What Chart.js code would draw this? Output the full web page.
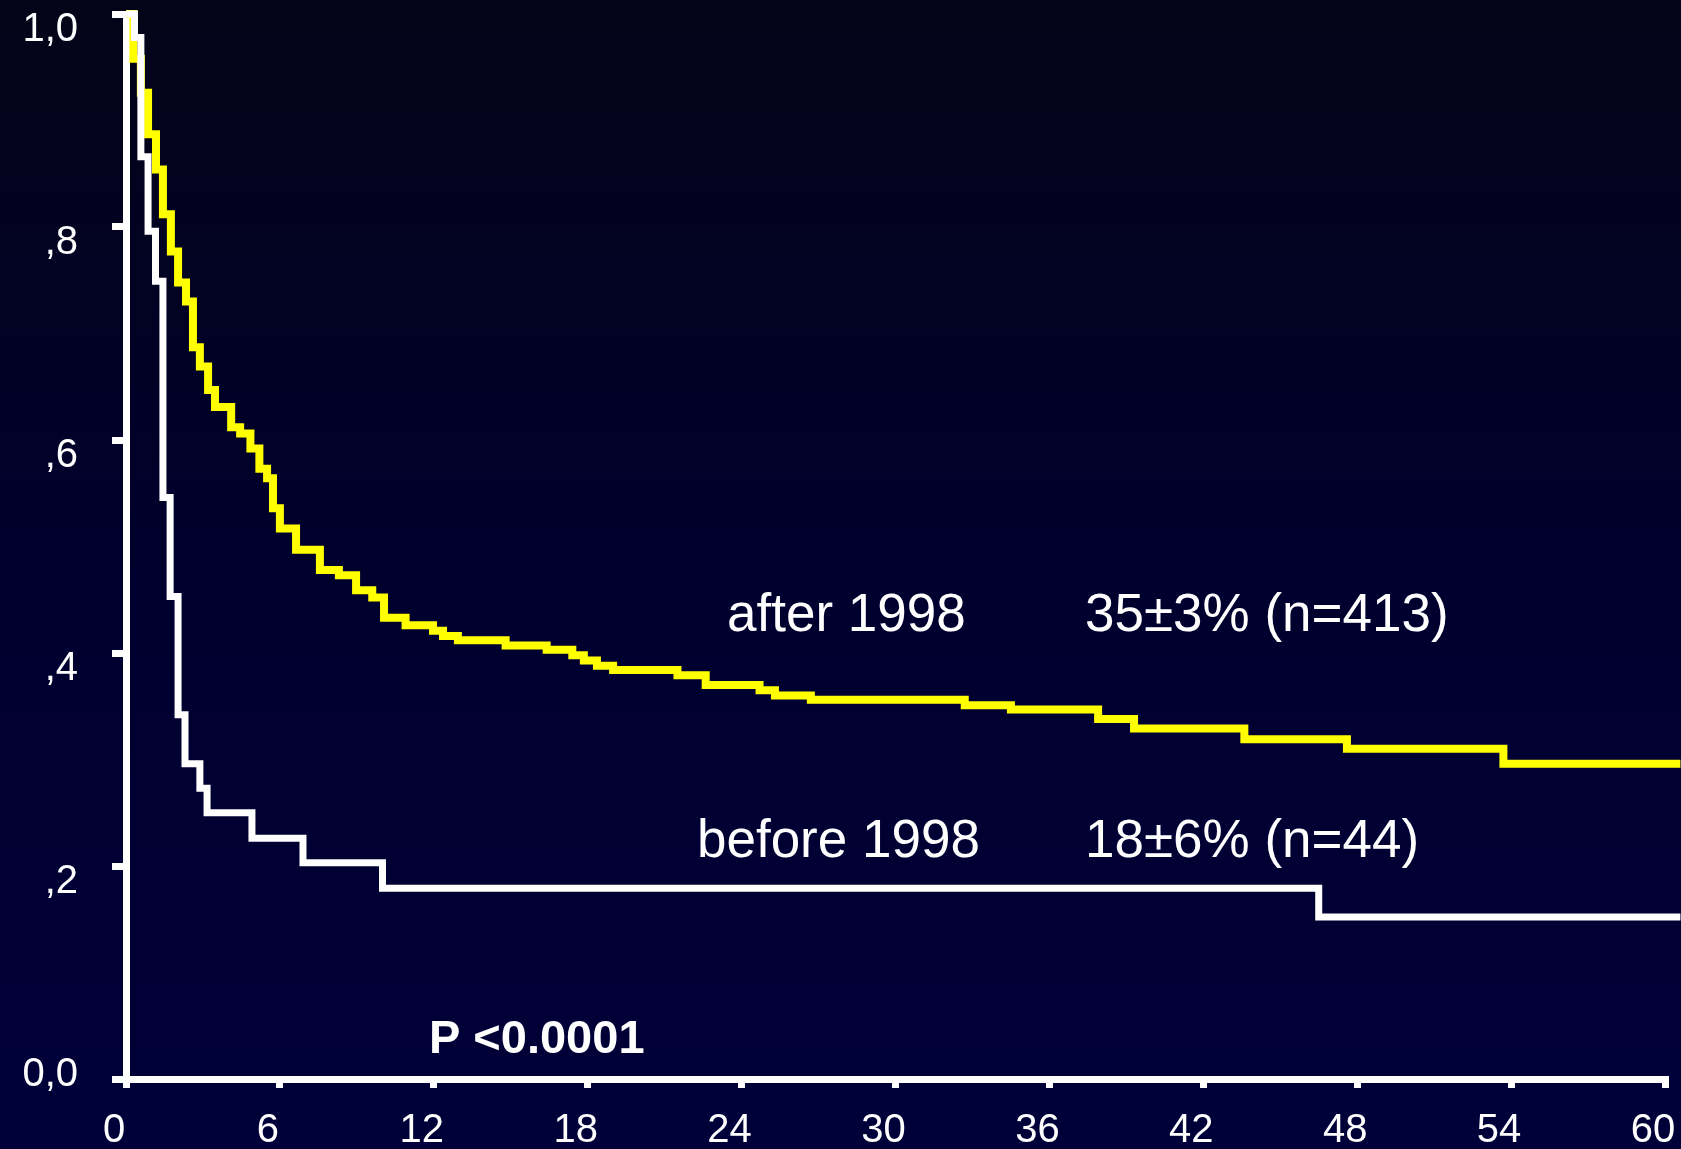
<!DOCTYPE html>
<html>
<head>
<meta charset="utf-8">
<script src="https://cdn.jsdelivr.net/npm/chart.js@4.4.1/dist/chart.umd.min.js"></script>
<style>
html, body { margin:0; padding:0; width:1681px; height:1149px; overflow:hidden;
  background: linear-gradient(to bottom, #040418 0%, #00002e 50%, #000039 100%); }
canvas { display:block; }
</style>
</head>
<body>
<canvas id="c" width="1681" height="1149"></canvas>
<script>
// ---- data (months, survival) ----
const afterMonths = [0, 0.29, 0.58, 0.86, 1.17, 1.44, 1.75, 2.03, 2.34, 2.61, 2.88, 3.2, 3.47, 4.1, 4.45,
  4.85, 5.2, 5.5, 5.73, 6.0, 6.63, 7.56, 8.3, 8.97, 9.6, 10.06, 10.9, 11.97, 12.36, 12.94,
  14.8, 16.4, 17.4, 17.85, 18.36, 18.99, 21.5, 22.6, 24.7, 25.3, 26.7, 32.7, 34.5, 37.9, 39.3,
  43.6, 47.6, 53.7, 60.6];
const afterSurvival = [1.0, 0.958, 0.926, 0.887, 0.854, 0.812, 0.777, 0.748, 0.730, 0.687, 0.669, 0.647, 0.631, 0.612, 0.606,
  0.592, 0.573, 0.564, 0.536, 0.517, 0.497, 0.478, 0.473, 0.459, 0.452, 0.433, 0.426, 0.421, 0.416, 0.412,
  0.407, 0.403, 0.398, 0.393, 0.388, 0.384, 0.379, 0.370, 0.365, 0.360, 0.356, 0.351, 0.347, 0.338, 0.329,
  0.319, 0.310, 0.296, 0.296];

const beforeMonths = [0, 0.33, 0.58, 0.86, 1.15, 1.44, 1.72, 2.03, 2.30, 2.88, 3.16, 4.91, 6.90, 10.0, 46.5, 60.6];
const beforeSurvival = [1.0, 0.978, 0.866, 0.796, 0.749, 0.546, 0.453, 0.342, 0.296, 0.273, 0.250, 0.226, 0.203, 0.179, 0.152, 0.152];

const xTickLabels = ['0', '6', '12', '18', '24', '30', '36', '42', '48', '54', '60'];
const yTickLabels = ['0,0', ',2', ',4', ',6', ',8', '1,0'];

const seriesLabels = ['after 1998', 'before 1998'];
const seriesStats = ['35\u00B13% (n=413)', '18\u00B16% (n=44)'];
const pValueText = 'P <0.0001';

// ---- build ----
const toPoints = (xs, ys) => xs.map((x, i) => ({ x: x, y: ys[i] }));
const FONT = '"Liberation Sans", Arial, Helvetica, sans-serif';

// text annotations placed in data coordinates
const notes = [
  { text: seriesLabels[0], x: 23.43, y: 0.4207, bold: false, size: 53 },
  { text: seriesStats[0],  x: 37.39, y: 0.4207, bold: false, size: 53 },
  { text: seriesLabels[1], x: 22.26, y: 0.2085, bold: false, size: 53 },
  { text: seriesStats[1],  x: 37.39, y: 0.2085, bold: false, size: 53 },
  { text: pValueText,      x: 11.81, y: 0.0244, bold: true,  size: 47 }
];

const notesPlugin = {
  id: 'notes',
  afterDraw(chart) {
    const ctx = chart.ctx, xs = chart.scales.x, ys = chart.scales.y;
    ctx.save();
    ctx.fillStyle = '#ffffff';
    ctx.textBaseline = 'alphabetic';
    ctx.textAlign = 'left';
    notes.forEach(n => {
      ctx.font = (n.bold ? 'bold ' : '') + n.size + 'px ' + FONT;
      ctx.fillText(n.text, xs.getPixelForValue(n.x), ys.getPixelForValue(n.y));
    });
    ctx.restore();
  }
};

new Chart(document.getElementById('c'), {
  type: 'line',
  data: {
    datasets: [
      {
        label: seriesLabels[1],
        data: toPoints(beforeMonths, beforeSurvival),
        borderColor: '#ffffff',
        borderWidth: 7,
        stepped: 'before',
        pointRadius: 0,
        fill: false,
        clip: false,
        borderJoinStyle: 'miter',
        borderCapStyle: 'butt'
      },
      {
        label: seriesLabels[0],
        data: toPoints(afterMonths, afterSurvival),
        borderColor: '#ffff00',
        borderWidth: 8,
        stepped: 'before',
        pointRadius: 0,
        fill: false,
        clip: false,
        borderJoinStyle: 'miter',
        borderCapStyle: 'butt'
      }
    ]
  },
  options: {
    responsive: false,
    animation: false,
    devicePixelRatio: 1,
    layout: { padding: { top: 14, right: 16, left: 0, bottom: 0 } },
    plugins: { legend: { display: false }, tooltip: { enabled: false } },
    scales: {
      x: {
        type: 'linear',
        min: 0, max: 60,
        position: 'bottom',
        afterFit(scale) { scale.height = 70; scale.paddingLeft = 0; scale.paddingRight = 0; },
        border: { display: true, color: '#ffffff', width: 7 },
        grid: { drawOnChartArea: false, drawTicks: true, tickLength: 9, lineWidth: 7, color: '#ffffff' },
        ticks: {
          stepSize: 6,
          autoSkip: false,
          maxRotation: 0,
          labelOffset: -12,
          padding: 19,
          color: '#ffffff',
          font: { family: FONT, size: 40 },
          callback: (v, i) => xTickLabels[i]
        }
      },
      y: {
        type: 'linear',
        min: 0, max: 1,
        afterFit(scale) { scale.width = 126; scale.paddingTop = 0; scale.paddingBottom = 0; },
        border: { display: true, color: '#ffffff', width: 7 },
        grid: { drawOnChartArea: false, drawTicks: true, tickLength: 14, lineWidth: 7, color: '#ffffff' },
        ticks: {
          stepSize: 0.2,
          labelOffset: 16,
          padding: 34,
          color: '#ffffff',
          font: (ctx) => ({ family: FONT, size: 40, lineHeight: ctx.index === 0 ? 1.0 : 1.2 }),
          callback: (v, i) => i === 0 ? [yTickLabels[0], ''] : yTickLabels[i]
        }
      }
    }
  },
  plugins: [notesPlugin]
});
</script>
</body>
</html>
